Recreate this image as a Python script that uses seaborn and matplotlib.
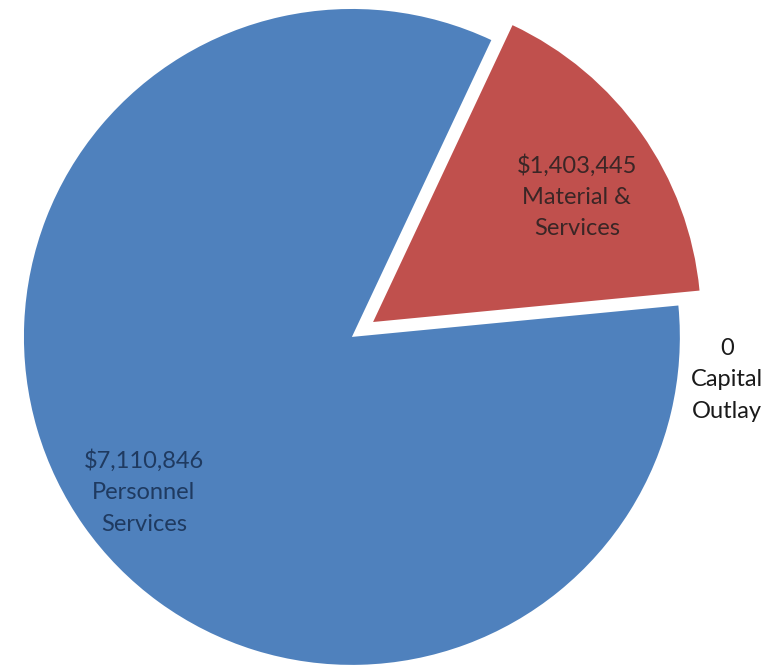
import matplotlib
matplotlib.use("Agg")
import matplotlib.pyplot as plt
import seaborn as sns

# Data
categories = ["Material & Services", "Personnel Services", "Capital Outlay"]
values = [1403445, 7110846, 0]
value_labels = ["$1,403,445", "$7,110,846", "0"]
colors = ["#c0504d", "#4f81bd", "#9bbb59"]

sns.set_theme(style="white")
plt.rcParams['font.family'] = ['Lato', 'DejaVu Sans']

fig = plt.figure(figsize=(7.73, 6.65), dpi=100)
ax = fig.add_axes([0, 0, 1, 1])

wedges, _ = ax.pie(values[:2], colors=colors[:2], startangle=5.5,
                   explode=[0.079, 0.0], radius=1.0, counterclock=True,
                   wedgeprops=dict(linewidth=0))

ax.set_xlim(-1.073, 1.284)
ax.set_ylim(-1.0, 1.027)
ax.set_aspect('equal')
ax.axis('off')

fs = 17
ls = 1.6
ax.text(0.686, 0.427, f"{value_labels[0]}\n{categories[0].replace(' & ', ' &\n')}",
        ha='center', va='center', fontsize=fs, color='#3a2626', linespacing=ls)
ax.text(-0.634, -0.473, f"{value_labels[1]}\n{categories[1].replace(' ', '\n')}",
        ha='center', va='center', fontsize=fs, color='#1f3a60', linespacing=ls)
ax.text(1.143, -0.131, f"{value_labels[2]}\n{categories[2].replace(' ', '\n')}",
        ha='center', va='center', fontsize=fs, color='#1a1a1a', linespacing=ls)

fig.savefig("out.png", dpi=100)
